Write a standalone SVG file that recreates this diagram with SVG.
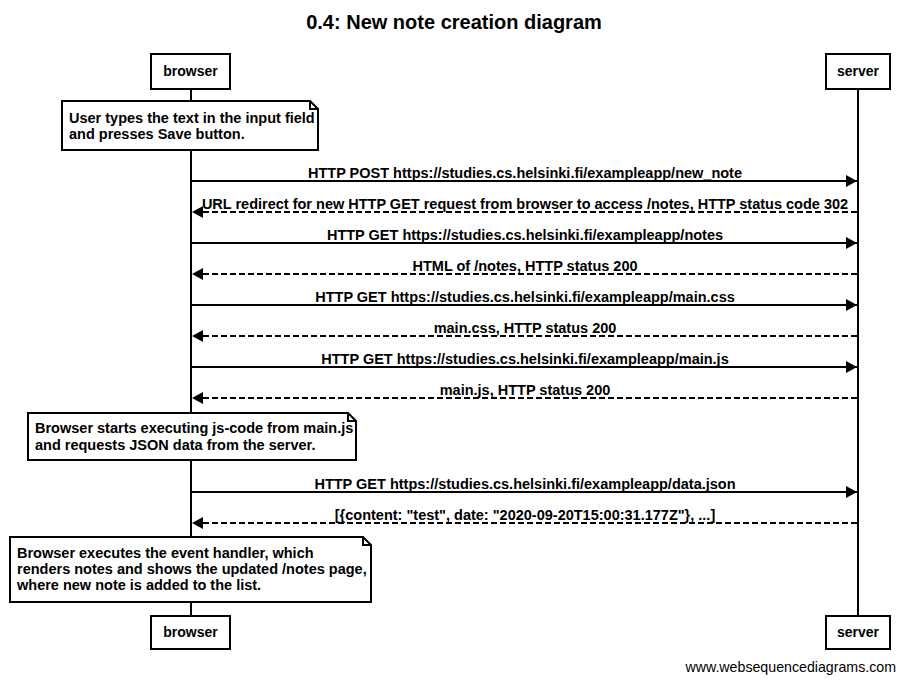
<svg xmlns="http://www.w3.org/2000/svg" width="905" height="683" viewBox="0 0 905 683">
<style>
text{font-family:"Liberation Sans",Arial,sans-serif;fill:#000}
.t{font-size:20px;font-weight:bold}
.b{font-size:14.5px;font-weight:bold}
.m{font-size:14.5px;font-weight:bold;text-anchor:middle}
.p{font-size:14px;font-weight:bold;text-anchor:middle}
.f{font-size:14.2px;text-anchor:end}
.box{fill:#fff;stroke:#000;stroke-width:2}
.life{stroke:#000;stroke-width:2}
.msg{stroke:#000;stroke-width:2;fill:none}
.dash{stroke-dasharray:6,3}
</style>
<defs>
<marker id="ah" markerUnits="userSpaceOnUse" markerWidth="12" markerHeight="14" refX="11" refY="7" orient="auto">
<path d="M0,1 L11,7 L0,13 Z" fill="#000"/>
</marker>
</defs>
<rect width="905" height="683" fill="#fff"/>
<text class="t" x="454" y="29" text-anchor="middle">0.4: New note creation diagram</text>
<g id="lifelines">
<line class="life" x1="191" y1="89" x2="191" y2="616"/>
<line class="life" x1="858" y1="89" x2="858" y2="616"/>
</g>
<g id="browser-top"><rect class="box" x="151" y="54" width="79" height="35"/><text class="p" x="190.5" y="76">browser</text></g>
<g id="server-top"><rect class="box" x="826" y="54" width="64" height="35"/><text class="p" x="858" y="76">server</text></g>
<g id="browser-bottom"><rect class="box" x="151" y="616" width="79" height="33"/><text class="p" x="190.5" y="637">browser</text></g>
<g id="server-bottom"><rect class="box" x="826" y="616" width="64" height="33"/><text class="p" x="858" y="637">server</text></g>
<g id="note1">
<path class="box" d="M62,101 H310 L318,109 V150 H62 Z"/><path d="M310,101 V109 H318" fill="none" stroke="#000" stroke-width="2"/>
<text class="b" x="69" y="123">User types the text in the input field</text>
<text class="b" x="69" y="139">and presses Save button.</text>
</g>
<g id="note2">
<path class="box" d="M28,413 H348 L356,421 V460 H28 Z"/><path d="M348,413 V421 H356" fill="none" stroke="#000" stroke-width="2"/>
<text class="b" x="35" y="433">Browser starts executing js-code from main.js</text>
<text class="b" x="35" y="450">and requests JSON data from the server.</text>
</g>
<g id="note3">
<path class="box" d="M10,537 H363 L371,545 V602 H10 Z"/><path d="M363,537 V545 H371" fill="none" stroke="#000" stroke-width="2"/>
<text class="b" x="17" y="558">Browser executes the event handler, which</text>
<text class="b" x="17" y="574">renders notes and shows the updated /notes page,</text>
<text class="b" x="17" y="590">where new note is added to the list.</text>
</g>
<g id="connectors">
<line class="msg" x1="191" y1="181" x2="857" y2="181" marker-end="url(#ah)"/>
<text class="m" x="525" y="178">HTTP POST https://studies.cs.helsinki.fi/exampleapp/new_note</text>
<line class="msg dash" x1="857" y1="212" x2="192" y2="212" marker-end="url(#ah)"/>
<text class="m" x="525" y="209">URL redirect for new HTTP GET request from browser to access /notes, HTTP status code 302</text>
<line class="msg" x1="191" y1="243" x2="857" y2="243" marker-end="url(#ah)"/>
<text class="m" x="525" y="240">HTTP GET https://studies.cs.helsinki.fi/exampleapp/notes</text>
<line class="msg dash" x1="857" y1="274" x2="192" y2="274" marker-end="url(#ah)"/>
<text class="m" x="525" y="271">HTML of /notes, HTTP status 200</text>
<line class="msg" x1="191" y1="305" x2="857" y2="305" marker-end="url(#ah)"/>
<text class="m" x="525" y="302">HTTP GET https://studies.cs.helsinki.fi/exampleapp/main.css</text>
<line class="msg dash" x1="857" y1="336" x2="192" y2="336" marker-end="url(#ah)"/>
<text class="m" x="525" y="333">main.css, HTTP status 200</text>
<line class="msg" x1="191" y1="367" x2="857" y2="367" marker-end="url(#ah)"/>
<text class="m" x="525" y="364">HTTP GET https://studies.cs.helsinki.fi/exampleapp/main.js</text>
<line class="msg dash" x1="857" y1="398" x2="192" y2="398" marker-end="url(#ah)"/>
<text class="m" x="525" y="395">main.js, HTTP status 200</text>
<line class="msg" x1="191" y1="492" x2="857" y2="492" marker-end="url(#ah)"/>
<text class="m" x="525" y="489">HTTP GET https://studies.cs.helsinki.fi/exampleapp/data.json</text>
<line class="msg dash" x1="857" y1="523" x2="192" y2="523" marker-end="url(#ah)"/>
<text class="m" x="525" y="520">[{content: "test", date: "2020-09-20T15:00:31.177Z"}, ...]</text>
</g>
<text class="f" x="896" y="672">www.websequencediagrams.com</text>
</svg>
